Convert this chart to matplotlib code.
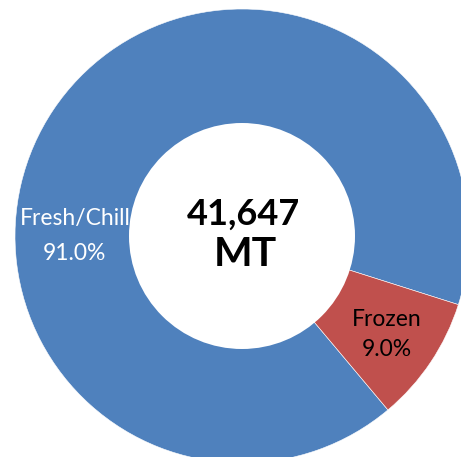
import matplotlib
matplotlib.use("Agg")
import matplotlib.pyplot as plt
from matplotlib.patches import Circle

categories = ["Fresh/Chill", "Frozen"]
shares = [91.0, 9.0]
total_label = "41,647"
unit_label = "MT"
colors = ["#4F81BD", "#C0504D"]

W, H = 461, 457
fig = plt.figure(figsize=(W / 100, H / 100), dpi=100)
ax = fig.add_axes([0, 0, 1, 1])

cx, cy = 242, H - 236
R = 227
r_in = 113

wedges, _ = ax.pie(shares, colors=colors, startangle=-50, counterclock=False,
                   center=(cx, cy), radius=R, frame=True,
                   wedgeprops=dict(edgecolor="white", linewidth=0.4))
for w in wedges:
    w.set_zorder(1)

hole = Circle((cx, cy), r_in, facecolor="white", edgecolor="none", zorder=3)
ax.add_patch(hole)

font = "Lato"
ax.text(75, H - 218, categories[0], ha="center", va="center", color="white",
        fontsize=16.5, family=font, zorder=2)
ax.text(74, H - 253, f"{shares[0]:.1f}%", ha="center", va="center", color="white",
        fontsize=16.5, family=font, zorder=2)
ax.text(387, H - 319, categories[1], ha="center", va="center", color="black",
        fontsize=16.5, family=font, zorder=4)
ax.text(387, H - 350, f"{shares[1]:.1f}%", ha="center", va="center", color="black",
        fontsize=16.5, family=font, zorder=4)

ax.text(cx + 1, H - 214, total_label, ha="center", va="center", color="black",
        fontsize=26, fontweight="bold", family=font, zorder=5)
ax.text(cx + 3, H - 254, unit_label, ha="center", va="center", color="black",
        fontsize=29.5, fontweight="bold", family=font, zorder=5)

ax.set_xlim(0, W)
ax.set_ylim(0, H)
ax.set_aspect("equal")
ax.axis("off")

fig.savefig("out.png", dpi=100, facecolor="white")
